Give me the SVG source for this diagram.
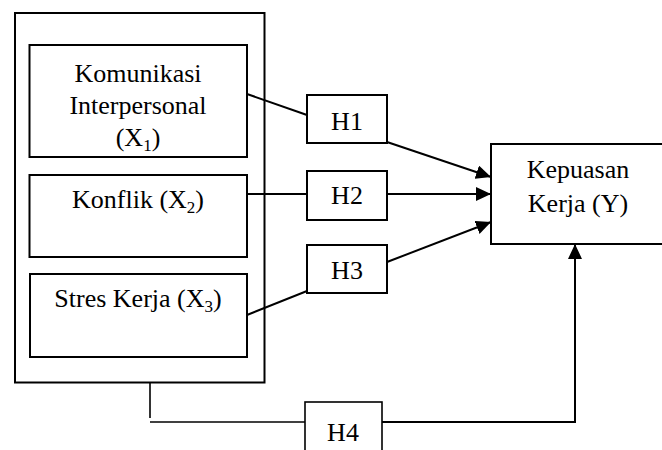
<svg xmlns="http://www.w3.org/2000/svg" width="662" height="450" viewBox="0 0 662 450">
<style>
.box{fill:#fff;stroke:#000;stroke-width:2}
.frame{fill:none;stroke:#000;stroke-width:2}
.ln{fill:none;stroke:#000;stroke-width:2}
.thin{fill:none;stroke:#000;stroke-width:1.6}
.t{font-family:'Liberation Serif','Times New Roman',Times,serif;font-size:26px;fill:#000;text-anchor:middle}
.sub{font-size:17px}
</style>
<defs>
<marker id="ah" markerUnits="userSpaceOnUse" markerWidth="16" markerHeight="14" refX="15" refY="7" orient="auto">
<path d="M0,0 L15,7 L0,14 Z" fill="#000"/>
</marker>
</defs>
<g id="group-x">
<rect class="frame" x="15" y="13" width="249.5" height="369.5"/>
</g>
<g id="x1">
<rect class="box" x="29.5" y="45" width="217.5" height="112"/>
<text class="t" x="138" y="82">Komunikasi</text>
<text class="t" x="138" y="114">Interpersonal</text>
<text class="t" x="138" y="146">(X<tspan class="sub" dy="5">1</tspan><tspan dy="-5">)</tspan></text>
</g>
<g id="x2">
<rect class="box" x="29.5" y="175" width="217.5" height="82"/>
<text class="t" x="138" y="208">Konflik (X<tspan class="sub" dy="5">2</tspan><tspan dy="-5">)</tspan></text>
</g>
<g id="x3">
<rect class="box" x="30" y="274" width="217" height="83"/>
<text class="t" x="138" y="307">Stres Kerja (X<tspan class="sub" dy="5">3</tspan><tspan dy="-5">)</tspan></text>
</g>
<g id="connectors">
<line class="ln" x1="247" y1="94" x2="307" y2="115"/>
<line class="ln" x1="247" y1="194" x2="307" y2="194"/>
<line class="ln" x1="247" y1="315" x2="307" y2="291"/>
<line class="ln" x1="387" y1="142" x2="491" y2="177" marker-end="url(#ah)"/>
<line class="ln" x1="387" y1="194" x2="491" y2="194" marker-end="url(#ah)"/>
<line class="ln" x1="387" y1="262" x2="491" y2="222" marker-end="url(#ah)"/>
<polyline class="thin" points="150,382.5 150,418"/>
<line class="thin" x1="150" y1="422" x2="305" y2="422"/>
<polyline class="ln" points="382,422 575,422 575,244" marker-end="url(#ah)"/>
</g>
<g id="h1">
<rect class="box" x="307" y="95" width="80" height="48"/>
<text class="t" x="347" y="130">H1</text>
</g>
<g id="h2">
<rect class="box" x="307" y="171" width="80" height="49"/>
<text class="t" x="347" y="204">H2</text>
</g>
<g id="h3">
<rect class="box" x="307" y="245" width="80" height="48"/>
<text class="t" x="347" y="279">H3</text>
</g>
<g id="h4">
<rect class="box" x="305" y="402" width="77" height="60" style="stroke-width:1.6"/>
<text class="t" x="343" y="441">H4</text>
</g>
<g id="y">
<rect class="box" x="491" y="144" width="180" height="100"/>
<text class="t" x="578" y="178">Kepuasan</text>
<text class="t" x="578" y="212">Kerja (Y)</text>
</g>
</svg>
